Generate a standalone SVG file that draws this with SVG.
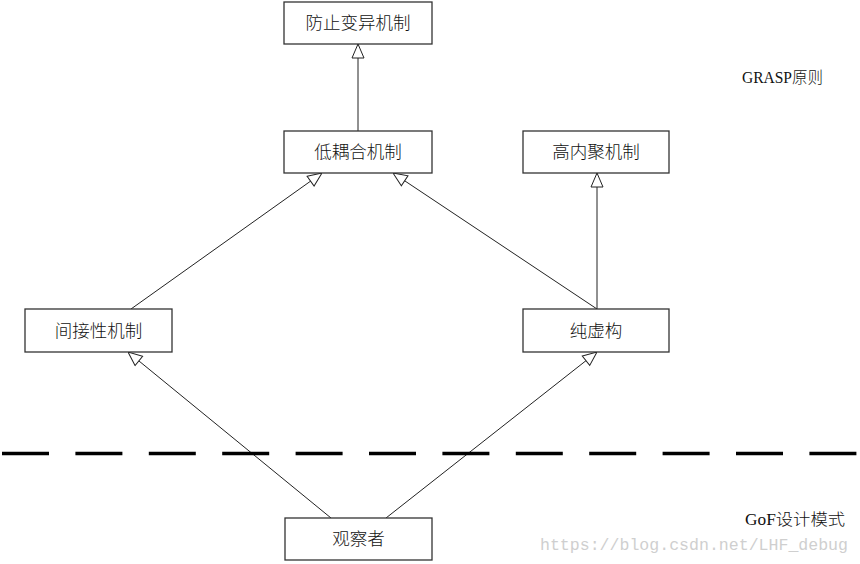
<svg xmlns="http://www.w3.org/2000/svg" width="860" height="564" viewBox="0 0 860 564">
<style>
.box{fill:#fff;stroke:#333;stroke-width:1.3}
.lbl{font-family:"Liberation Serif","Noto Sans CJK SC",serif;font-size:17.5px;font-weight:300;fill:#111;text-anchor:middle;dominant-baseline:central}
.note{font-family:"Liberation Serif","Noto Sans CJK SC",serif;font-size:16px;font-weight:300;fill:#111}
.edge{stroke:#222;stroke-width:1;fill:none;marker-end:url(#tri)}
</style>
<defs>
<marker id="tri" viewBox="0 0 15 14" refX="15" refY="7" markerWidth="15" markerHeight="14" markerUnits="userSpaceOnUse" orient="auto">
<path d="M1,1 L15,7 L1,13 Z" fill="#fff" stroke="#222" stroke-width="1"/>
</marker>
</defs>
<rect width="860" height="564" fill="#fff"/>
<g id="connectors">
<line class="edge" x1="358" y1="131" x2="358" y2="44"/>
<line class="edge" x1="131" y1="309" x2="322" y2="173"/>
<line class="edge" x1="597" y1="309" x2="393" y2="173"/>
<line class="edge" x1="597" y1="309" x2="597" y2="173"/>
<line class="edge" x1="331" y1="518" x2="128" y2="352"/>
<line class="edge" x1="386" y1="518" x2="597" y2="352"/>
</g>
<g id="separator">
<line x1="2" y1="453.5" x2="860" y2="453.5" stroke="#000" stroke-width="3.5" stroke-dasharray="47 26.4"/>
</g>
<g id="n-fangzhi"><rect class="box" x="284" y="2" width="148" height="42"/><text class="lbl" x="358" y="23">防止变异机制</text></g>
<g id="n-diouhe"><rect class="box" x="284" y="131" width="148" height="42"/><text class="lbl" x="358" y="152">低耦合机制</text></g>
<g id="n-gaoneiju"><rect class="box" x="523" y="131" width="146" height="42"/><text class="lbl" x="596" y="152">高内聚机制</text></g>
<g id="n-jianjie"><rect class="box" x="25" y="309" width="147" height="43"/><text class="lbl" x="98.5" y="330.5">间接性机制</text></g>
<g id="n-chunxugou"><rect class="box" x="523" y="309" width="146" height="43"/><text class="lbl" x="596" y="330.5">纯虚构</text></g>
<g id="n-guanchazhe"><rect class="box" x="285" y="518" width="147" height="42"/><text class="lbl" x="358.5" y="539">观察者</text></g>
<text class="note" x="742" y="83" textLength="81" lengthAdjust="spacingAndGlyphs">GRASP原则</text>
<text class="note" x="745" y="525" textLength="100" lengthAdjust="spacingAndGlyphs">GoF设计模式</text>
<text x="540" y="550" font-family="Liberation Mono,monospace" font-size="16" fill="#cfcfcf" textLength="308" lengthAdjust="spacingAndGlyphs">https://blog.csdn.net/LHF_debug</text>
</svg>
